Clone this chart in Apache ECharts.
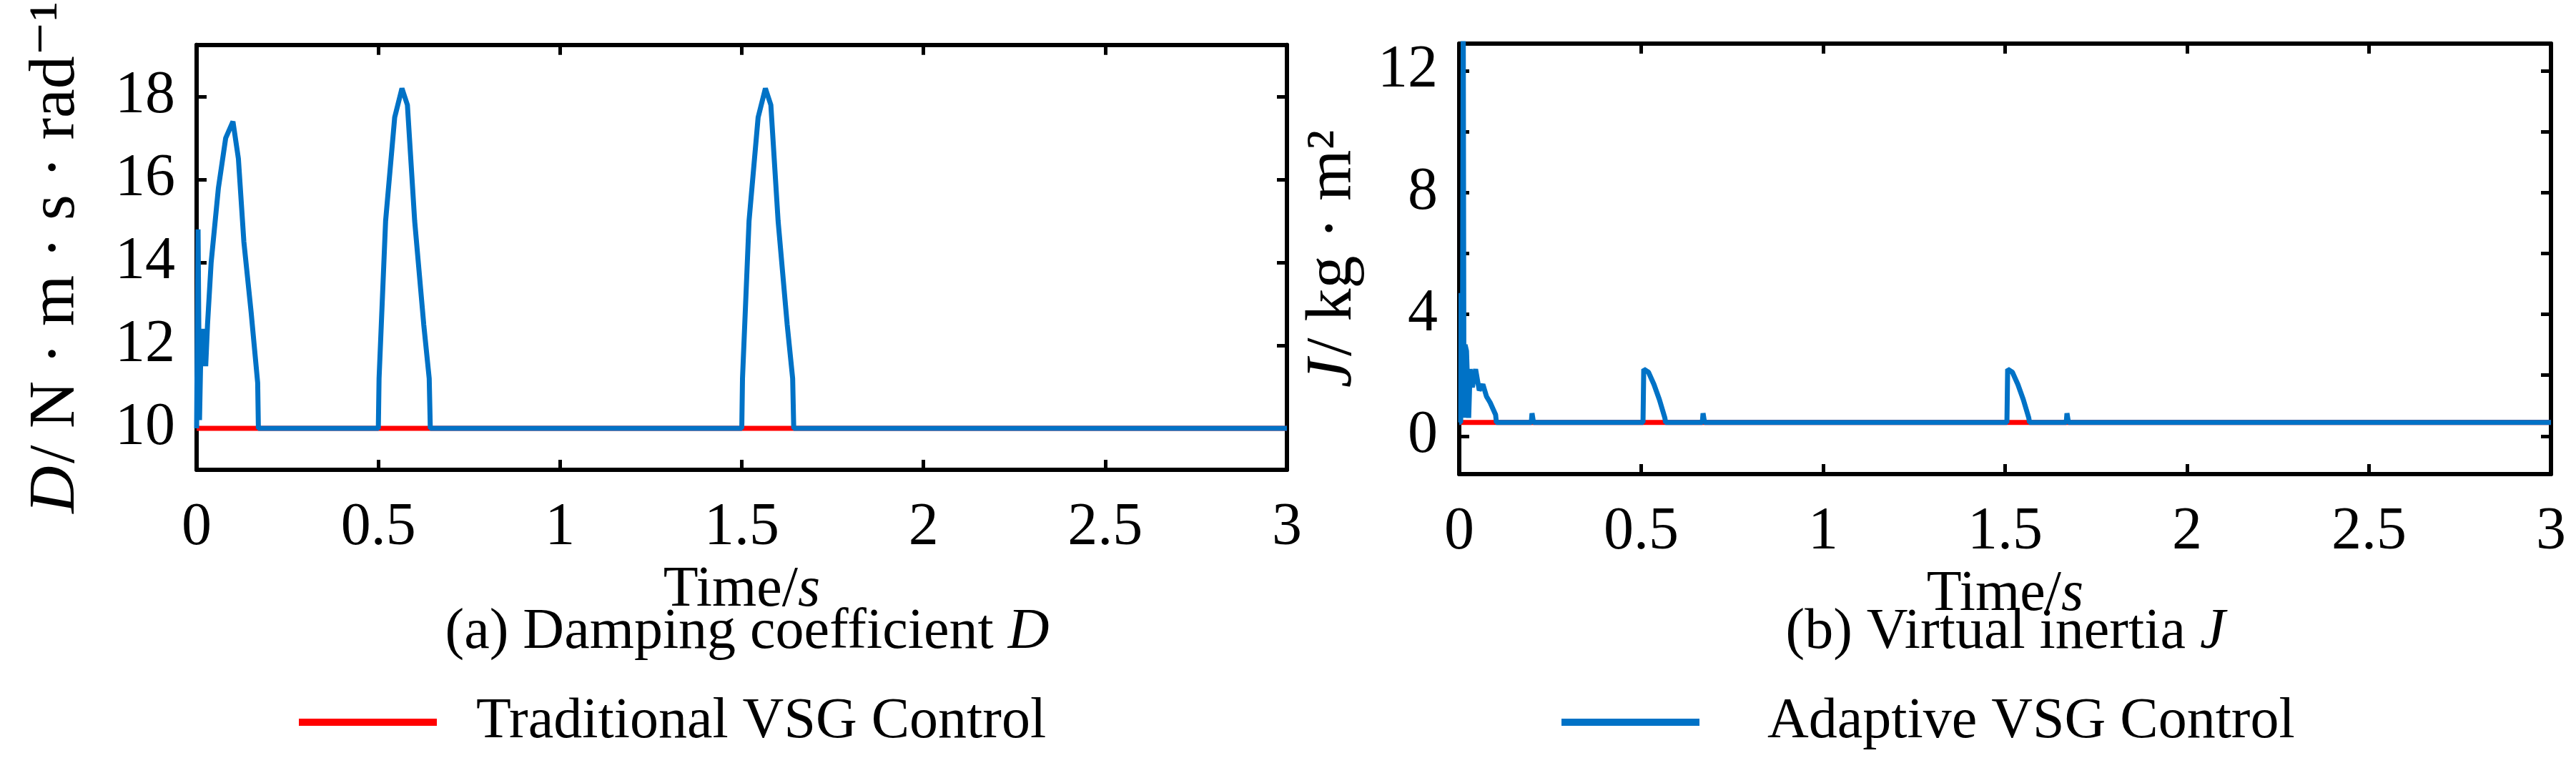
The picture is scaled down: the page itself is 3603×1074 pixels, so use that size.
<!DOCTYPE html>
<html>
<head>
<meta charset="utf-8">
<script src="https://cdn.jsdelivr.net/npm/echarts@6/dist/echarts.min.js"></script>
<style>html,body{margin:0;padding:0;background:#fff}#main{width:3603px;height:1074px}</style>
</head>
<body>
<div id="main"></div>
<script>
// 阻尼系数 D
var dTraditional = [[0, 10], [3, 10]];
var dAdaptive = [
    [0, 10], [0.003, 10], [0.004, 14.8], [0.006, 14.8], [0.008, 10.2], [0.012, 12], [0.016, 11.5],
    [0.02, 12.4], [0.025, 11.5], [0.03, 12.5], [0.04, 14], [0.06, 15.8], [0.08, 17], [0.1, 17.4],
    [0.115, 16.5], [0.13, 14.5], [0.15, 12.8], [0.168, 11.1], [0.17, 10],
    [0.5, 10], [0.502, 11.2], [0.52, 15], [0.545, 17.5], [0.565, 18.2], [0.58, 17.8], [0.6, 15],
    [0.625, 12.5], [0.64, 11.2], [0.643, 10],
    [1.5, 10], [1.502, 11.2], [1.52, 15], [1.545, 17.5], [1.565, 18.2], [1.58, 17.8], [1.6, 15],
    [1.625, 12.5], [1.64, 11.2], [1.643, 10],
    [3, 10]
];
// 虚拟惯量 J
var jTraditional = [[0, 0.45], [3, 0.45]];
var jAdaptive = [
    [0, 0.45], [0.004, 0.45], [0.005, 4.7], [0.007, 0.6], [0.009, 3.5], [0.011, 14], [0.013, 0.6],
    [0.016, 3], [0.02, 2.8], [0.026, 0.6], [0.03, 2.2], [0.036, 1.6], [0.045, 2.2], [0.055, 1.5],
    [0.065, 1.7], [0.075, 1.3], [0.085, 1.1], [0.1, 0.7], [0.102, 0.45],
    [0.198, 0.45], [0.2, 0.75], [0.204, 0.45],
    [0.505, 0.45], [0.507, 2.2], [0.52, 2.1], [0.535, 1.7], [0.55, 1.2], [0.565, 0.6], [0.567, 0.45],
    [0.668, 0.45], [0.67, 0.75], [0.674, 0.45],
    [1.505, 0.45], [1.507, 2.2], [1.52, 2.1], [1.535, 1.7], [1.55, 1.2], [1.565, 0.6], [1.567, 0.45],
    [1.668, 0.45], [1.67, 0.75], [1.674, 0.45],
    [3, 0.45]
];
var dTicks = [10, 12, 14, 16, 18];
var jLabelTicks = [0, 4, 8, 12];
var jTickMarks = [0, 2, 4, 6, 8, 10, 12];

var font = '"Liberation Serif", "DejaVu Serif", serif';

function frame() {
    return {show: true, onZero: false, lineStyle: {color: '#000', width: 6}};
}
function ticks(values) {
    var t = {show: true, inside: true, length: 14, lineStyle: {width: 5, color: '#000'}};
    if (values) t.customValues = values;
    return t;
}

function xAxes(grid) {
    return [{
        type: 'value', gridIndex: grid, min: 0, max: 3, interval: 0.5,
        axisLine: frame(), axisTick: ticks(),
        axisLabel: {color: '#000', fontFamily: font, fontSize: 84, margin: 40, formatter: function (v) { return String(v); }},
        splitLine: {show: false},
        name: '{n|Time/}{i|s}', nameLocation: 'middle', nameGap: 112,
        nameTextStyle: {rich: {n: {fontFamily: font, fontSize: 80, color: '#000'}, i: {fontFamily: font, fontSize: 80, fontStyle: 'italic', color: '#000'}}}
    }, {
        type: 'value', gridIndex: grid, position: 'top', min: 0, max: 3, interval: 0.5,
        axisLine: frame(), axisTick: ticks(),
        axisLabel: {show: false}, splitLine: {show: false}
    }];
}

function yAxes(grid, min, max, labels, marks, name, gap) {
    return [{
        type: 'value', gridIndex: grid, min: min, max: max,
        axisLine: frame(), axisTick: ticks(marks),
        axisLabel: {color: '#000', fontFamily: font, fontSize: 84, margin: 30, customValues: labels},
        splitLine: {show: false},
        name: name, nameLocation: 'middle', nameGap: gap,
        nameTextStyle: {rich: {
            i: {fontFamily: font, fontSize: 92, fontStyle: 'italic', color: '#000'},
            n: {fontFamily: font, fontSize: 92, color: '#000'}
        }}
    }, {
        type: 'value', gridIndex: grid, position: 'right', min: min, max: max,
        axisLine: frame(), axisTick: ticks(marks),
        axisLabel: {show: false}, splitLine: {show: false}
    }];
}

var xs = xAxes(0).concat(xAxes(1));
var ys = yAxes(0, 9, 19.25, dTicks, dTicks, '{i|D} {n|/ N · m · s · rad⁻¹}', 150)
    .concat(yAxes(1, -1.25, 12.9, jLabelTicks, jTickMarks, '{i|J} {n|/ kg · m²}', 130));

function line(name, data, xi, yi, color) {
    return {
        name: name, type: 'line', data: data, xAxisIndex: xi, yAxisIndex: yi,
        showSymbol: false, lineStyle: {color: color, width: 7}, itemStyle: {color: color}, animation: false
    };
}

var chart = echarts.init(document.getElementById('main'));
chart.setOption({
    backgroundColor: '#fff',
    title: [
        {text: '(a) Damping coefficient {i|D}', left: 1040, top: 840, textAlign: 'center',
            textStyle: {fontFamily: font, fontSize: 80, fontWeight: 'normal', color: '#000',
                rich: {i: {fontFamily: font, fontSize: 80, fontStyle: 'italic', color: '#000'}}}},
        {text: '(b) Virtual inertia {i|J}', left: 2800, top: 840, textAlign: 'center',
            textStyle: {fontFamily: font, fontSize: 80, fontWeight: 'normal', color: '#000',
                rich: {i: {fontFamily: font, fontSize: 80, fontStyle: 'italic', color: '#000'}}}}
    ],
    legend: [
        {data: ['Traditional VSG Control'], left: 413, top: 965, itemWidth: 193, itemHeight: 10,
            icon: 'rect', textStyle: {fontFamily: font, fontSize: 80, color: '#000', padding: [0, 0, 0, 50]}},
        {data: ['Adaptive VSG Control'], left: 2179, top: 965, itemWidth: 193, itemHeight: 10,
            icon: 'rect', textStyle: {fontFamily: font, fontSize: 80, color: '#000', padding: [0, 0, 0, 90]}}
    ],
    grid: [
        {left: 275, right: 1803, top: 55, bottom: 417},
        {left: 2041, right: 35, top: 61, bottom: 411}
    ],
    xAxis: xs,
    yAxis: ys,
    series: [
        line('Traditional VSG Control', dTraditional, 0, 0, '#ff0000'),
        line('Adaptive VSG Control', dAdaptive, 0, 0, '#0072c6'),
        line('Traditional VSG Control', jTraditional, 2, 2, '#ff0000'),
        line('Adaptive VSG Control', jAdaptive, 2, 2, '#0072c6')
    ]
});
</script>
</body>
</html>
